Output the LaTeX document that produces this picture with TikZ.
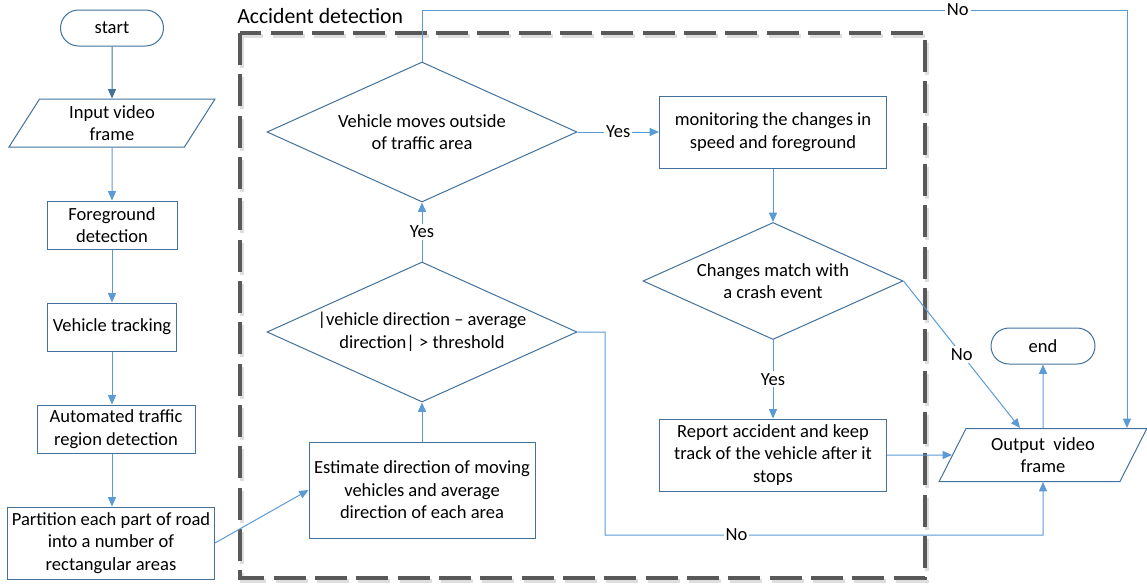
\documentclass[tikz,border=0pt]{standalone}
\usepackage{fontspec}
\setmainfont{Carlito}
\definecolor{boxBlue}{RGB}{65,113,156}
\definecolor{lineBlue}{RGB}{91,155,213}
\definecolor{frameGray}{RGB}{89,89,89}
\usetikzlibrary{arrows.meta,calc,shapes.geometric,shapes.misc}

\begin{document}
\begin{tikzpicture}[x=0.75pt,y=-0.75pt,
    every node/.style={font=\fontsize{13.9}{16.9}\selectfont, align=center, inner sep=0pt},
    proc/.style={draw=boxBlue, line width=0.75pt, rectangle},
    term/.style={draw=boxBlue, line width=0.75pt, rounded rectangle, minimum width=77.25pt, minimum height=27pt},
    io/.style={draw=boxBlue, line width=0.75pt, trapezium, trapezium left angle=63, trapezium right angle=117, trapezium stretches=true},
    decision/.style={draw=boxBlue, line width=0.75pt, diamond, aspect=2.2},
    flow/.style={draw=lineBlue, line width=0.75pt, -{Triangle[length=7pt,width=6pt]}},
    lbl/.style={fill=white, inner sep=1.5pt},
    frame/.style={line width=3pt, dash pattern=on 24pt off 7pt}]
  \useasboundingbox (0,0) rectangle (1147,586);

  % accident detection block
  \draw[frame, frameGray!20] (242,36) rectangle (927,581);
  \draw[frame, frameGray] (240,33) rectangle (925,578);
  \node[anchor=west, font=\fontsize{16.3}{19}\selectfont] (title) at (237,16) {Accident detection};

  % left column
  \node[term] (start) at (112,28) {start};
  \node[io, minimum width=155.25pt, minimum height=36pt] (input) at (112,123) {Input video\\frame};
  \node[proc, minimum width=97.5pt, minimum height=36pt] (fg) at (112,225) {Foreground\\detection};
  \node[proc, minimum width=96.75pt, minimum height=36pt] (track) at (112,327) {Vehicle tracking};
  \node[proc, minimum width=118.5pt, minimum height=36pt] (region) at (116,429) {Automated traffic\\region detection};
  \node[proc, minimum width=155.25pt, minimum height=54pt] (part) at (111,543) {Partition each part of road\\into a number of\\rectangular areas};

  % inside the block
  \node[decision, minimum width=232.5pt, minimum height=105pt] (outside) at (422,132) {Vehicle moves outside\\of traffic area};
  \node[decision, minimum width=232.5pt, minimum height=105pt] (dir) at (422,332) {|vehicle direction – average\\direction| > threshold};
  \node[proc, minimum width=169.5pt, minimum height=72pt] (est) at (422,490) {Estimate direction of moving\\vehicles and average\\direction of each area};
  \node[proc, minimum width=170.25pt, minimum height=54pt] (mon) at (773,132) {monitoring the changes in\\speed and foreground};
  \node[decision, minimum width=195pt, minimum height=87.75pt] (crash) at (773,281) {Changes match with\\a crash event};
  \node[proc, minimum width=170.25pt, minimum height=54pt] (report) at (773,455) {Report accident and keep\\track of the vehicle after it\\stops};

  % right side
  \node[io, minimum width=156pt, minimum height=39.75pt] (output) at (1043,455) {Output\ \ video\\frame};
  \node[term, minimum width=78pt] (stop) at (1043,346) {end};
  \coordinate (topTurn) at (1127,10);
  \coordinate (botTurn) at (605,535);

  \draw[flow, draw=boxBlue] (start) -- (input);
  \draw[flow] (input) -- (fg);
  \draw[flow] (fg) -- (track);
  \draw[flow] (track) -- (region.north -| track);
  \draw[flow] (region.south -| track) -- (part.north -| track);
  \draw[flow] (part.east) -- (est.west);
  \draw[flow] (est) -- (dir);
  \draw[flow] (dir) -- node[lbl]{Yes} (outside);
  \draw[flow] (outside) -- node[lbl]{Yes} (mon);
  \draw[flow] (mon) -- (crash);
  \draw[flow] (crash) -- node[lbl]{Yes} (report);
  \draw[flow] (report.east) -- (output.west);
  \draw[flow] (crash.east) -- node[lbl]{No} ($(output.north)+(-23,0)$);
  \draw[flow] (outside.north) |- node[lbl, pos=0.88]{No} (topTurn) -- (topTurn |- output.north);
  \draw[flow] (dir.east) -| (botTurn) -- node[lbl, pos=0.3]{No} (botTurn -| output) -- (output.south);
  \draw[flow] (output.north) -- (stop);
\end{tikzpicture}
\end{document}
